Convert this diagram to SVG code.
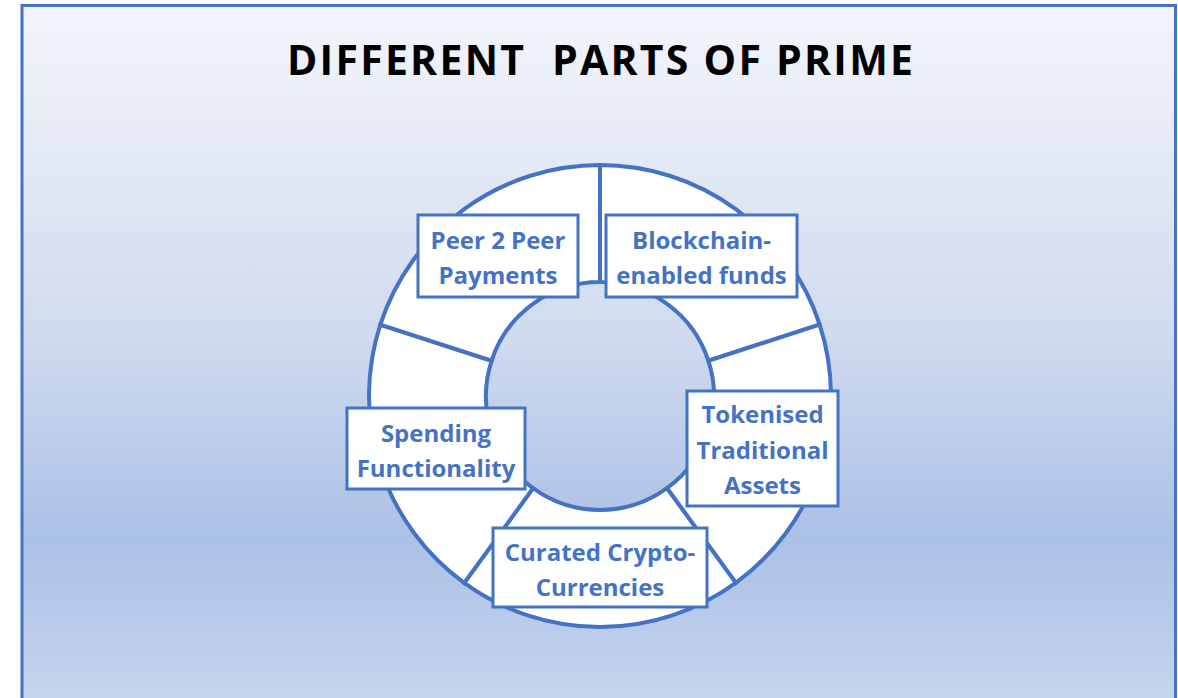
<svg xmlns="http://www.w3.org/2000/svg" width="1178" height="698" viewBox="0 0 1178 698">
  <defs>
    <linearGradient id="bg" gradientUnits="userSpaceOnUse" x1="0" y1="5" x2="0" y2="698">
      <stop offset="0" stop-color="#f3f5fb"/>
      <stop offset="0.45" stop-color="#d3ddf0"/>
      <stop offset="0.77" stop-color="#abc0e6"/>
      <stop offset="1" stop-color="#c5d5ed"/>
    </linearGradient>
    <style>
      .seg { fill: #ffffff; stroke: #4472c4; stroke-width: 4; stroke-linejoin: miter; }
      .box { fill: #ffffff; stroke: #4472c4; stroke-width: 3; }
      .lbl { font-family: "Open Sans", "Liberation Sans", sans-serif; font-weight: bold; font-size: 24px; fill: #4472c4; text-anchor: middle; }
      .title { font-family: "Open Sans", "Liberation Sans", sans-serif; font-weight: bold; font-size: 41px; fill: #000000; }
    </style>
  </defs>
  <rect x="0" y="0" width="1178" height="698" fill="#ffffff"/>
  <rect x="22" y="5.5" width="1153.5" height="700" fill="url(#bg)" stroke="#4472c4" stroke-width="3"/>
  <text class="title" x="287" y="75" textLength="626" lengthAdjust="spacing" xml:space="preserve">DIFFERENT  PARTS OF PRIME</text>

  <g id="ring">
    <path class="seg" d="M600,165 A231,231 0 0 1 819.69,324.62 L708.42,360.77 A114,114 0 0 0 600,282 Z"/>
    <path class="seg" d="M819.69,324.62 A231,231 0 0 1 735.78,582.88 L667.01,488.23 A114,114 0 0 0 708.42,360.77 Z"/>
    <path class="seg" d="M735.78,582.88 A231,231 0 0 1 464.22,582.88 L532.99,488.23 A114,114 0 0 0 667.01,488.23 Z"/>
    <path class="seg" d="M464.22,582.88 A231,231 0 0 1 380.31,324.62 L491.58,360.77 A114,114 0 0 0 532.99,488.23 Z"/>
    <path class="seg" d="M380.31,324.62 A231,231 0 0 1 600,165 L600,282 A114,114 0 0 0 491.58,360.77 Z"/>
  </g>

  <g id="connectors"></g>

  <g id="node-peer">
    <rect class="box" x="418" y="215" width="160" height="82"/>
    <text class="lbl" x="498" y="249">Peer 2 Peer</text>
    <text class="lbl" x="498" y="284">Payments</text>
  </g>
  <g id="node-blockchain">
    <rect class="box" x="606" y="215" width="191" height="82"/>
    <text class="lbl" x="701.5" y="249">Blockchain-</text>
    <text class="lbl" x="701.5" y="284">enabled funds</text>
  </g>
  <g id="node-spending">
    <rect class="box" x="347" y="408" width="178" height="81"/>
    <text class="lbl" x="436" y="442">Spending</text>
    <text class="lbl" x="436" y="477">Functionality</text>
  </g>
  <g id="node-tokenised">
    <rect class="box" x="687" y="391" width="151" height="115"/>
    <text class="lbl" x="762.5" y="423">Tokenised</text>
    <text class="lbl" x="762.5" y="459">Traditional</text>
    <text class="lbl" x="762.5" y="494">Assets</text>
  </g>
  <g id="node-curated">
    <rect class="box" x="493" y="528" width="214" height="79"/>
    <text class="lbl" x="600" y="561">Curated Crypto-</text>
    <text class="lbl" x="600" y="596">Currencies</text>
  </g>
</svg>
